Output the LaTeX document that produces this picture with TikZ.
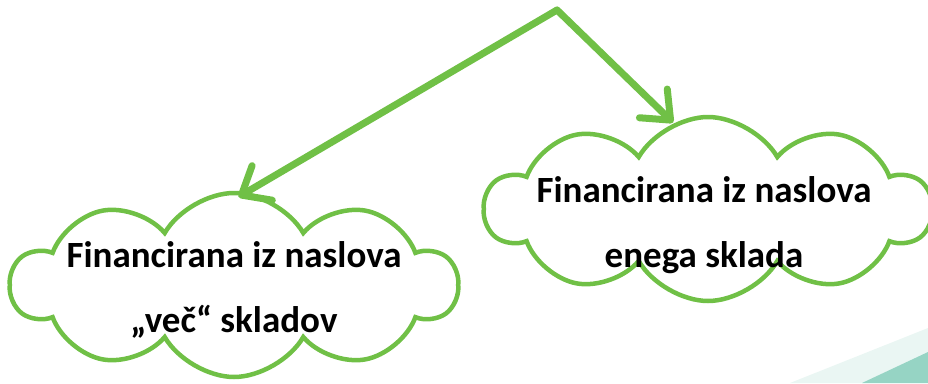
\documentclass[tikz,border=0pt]{standalone}
\usepackage{fontspec}
\setmainfont{Carlito}
\usetikzlibrary{shapes.symbols,arrows.meta}
\definecolor{leaf}{RGB}{112,192,70}
\definecolor{sea}{RGB}{150,212,196}
\begin{document}
\begin{tikzpicture}[x=1pt,y=-1pt,
  oblak/.style={cloud,cloud puffs=10,cloud puff arc=120,draw=leaf,line width=4.5pt,fill=white,minimum width=446pt,minimum height=184pt,aspect=2.4},
  napis/.style={font=\fontsize{37}{65}\selectfont\bfseries,align=center},
  puscica/.style={draw=leaf,line width=7pt,line cap=round,line join=round,-{Straight Barb[length=24pt,width=40pt,round]}}]
\useasboundingbox (0,0) rectangle (928,383);
\clip (0,0) rectangle (928,383);
\fill[sea!20] (790,383) -- (928,328) -- (928,383) -- cycle;
\fill[sea] (862,383) -- (928,352) -- (928,383) -- cycle;

\node[oblak](1) at (234,285){};
\node[oblak](2) at (708,209){};
\node[napis](3) at (234,290){Financirana iz naslova\\„več“ skladov};
\node[napis](4) at (704,225){Financirana iz naslova\\enega sklada};

\coordinate (vrh) at (557,10);
\draw[puscica,shorten >=-10pt] (vrh) -- (1.82);
\draw[puscica] (vrh) -- (2.112);
\end{tikzpicture}
\end{document}
